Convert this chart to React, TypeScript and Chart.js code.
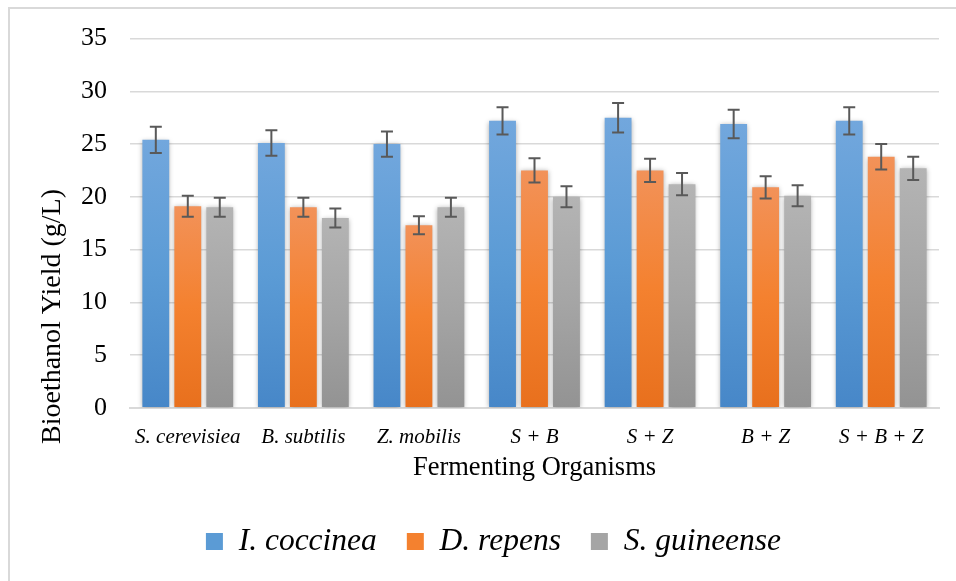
import { useEffect, useRef } from 'react'
import { Chart, registerables } from 'chart.js'
Chart.register(...registerables)

const SERIF = "'Liberation Serif', 'Times New Roman', serif"

const categories = ['S. cerevisiea', 'B. subtilis', 'Z. mobilis', 'S + B', 'S + Z', 'B + Z', 'S + B + Z']
const seriesNames = ['I. coccinea', 'D. repens', 'S. guineense']

const iCoccinea    = [25.4, 25.1, 25.0, 27.2, 27.5, 26.9, 27.2]
const iCoccineaErr = [1.25, 1.2, 1.2, 1.3, 1.4, 1.35, 1.3]
const dRepens      = [19.1, 19.0, 17.3, 22.5, 22.5, 20.9, 23.8]
const dRepensErr   = [1.0, 0.9, 0.85, 1.15, 1.1, 1.05, 1.2]
const sGuineense   = [19.0, 18.0, 19.0, 20.0, 21.2, 20.1, 22.7]
const sGuineenseErr = [0.9, 0.9, 0.9, 1.0, 1.05, 1.0, 1.1]

const yTicks = [0, 5, 10, 15, 20, 25, 30, 35]
const yTitle = 'Bioethanol Yield (g/L)'

// [top, middle, bottom] of each bar's gradient
const shades = [
  ['#72a7dd', '#5b9bd5', '#4787c8'],
  ['#f29259', '#f4812f', '#e8701d'],
  ['#b4b4b4', '#a5a5a5', '#939393'],
]

const errors = [iCoccineaErr, dRepensErr, sGuineenseErr]

const barFill = (si: number) => (ctx: any) => {
  const chart = ctx.chart
  const y = chart.scales?.y
  if (!chart.chartArea || !y || ctx.raw == null) return shades[si][1]
  const top = y.getPixelForValue(ctx.raw)
  const bot = y.getPixelForValue(0)
  if (!isFinite(top) || !isFinite(bot) || bot - top < 1) return shades[si][1]
  const g = chart.ctx.createLinearGradient(0, top, 0, bot)
  g.addColorStop(0, shades[si][0])
  g.addColorStop(0.5, shades[si][1])
  g.addColorStop(1, shades[si][2])
  return g
}

const errorBars = {
  id: 'errorBars',
  afterLayout(chart: any) {
    // legend sits a little right of centre, under the plot
    if (chart.legend) { chart.legend.left += 24; chart.legend.right += 24 }
  },
  beforeDatasetsDraw(chart: any) {
    const c = chart.ctx
    c.save()
    c.shadowColor = 'rgba(0,0,0,0.35)'
    c.shadowBlur = 5
    c.shadowOffsetX = 0
    c.shadowOffsetY = 1
  },
  afterDatasetsDraw(chart: any) {
    const c = chart.ctx
    c.restore()
    const y = chart.scales.y
    c.save()
    c.strokeStyle = '#595959'
    c.lineWidth = 2
    chart.data.datasets.forEach((ds: any, i: number) => {
      const meta = chart.getDatasetMeta(i)
      meta.data.forEach((bar: any, j: number) => {
        const v = ds.data[j], e = errors[i][j]
        const hi = y.getPixelForValue(v + e), lo = y.getPixelForValue(v - e)
        const cap = 6
        c.beginPath()
        c.moveTo(bar.x, hi); c.lineTo(bar.x, lo)
        c.moveTo(bar.x - cap, hi); c.lineTo(bar.x + cap, hi)
        c.moveTo(bar.x - cap, lo); c.lineTo(bar.x + cap, lo)
        c.stroke()
      })
    })
    c.restore()
  },
  afterDraw(chart: any) {
    // y title is set low, as in the source figure, not centred on the plot
    const c = chart.ctx
    c.save()
    c.translate(53, 316.5)
    c.rotate(-Math.PI / 2)
    c.font = `28px ${SERIF}`
    c.fillStyle = '#000'
    c.textAlign = 'center'
    c.textBaseline = 'middle'
    c.fillText(yTitle, 0, 0)
    c.restore()
  },
}

export default function App() {
  const ref = useRef<HTMLCanvasElement>(null)

  useEffect(() => {
    if (!ref.current) return
    const values = [iCoccinea, dRepens, sGuineense]
    const chart = new Chart(ref.current, {
      type: 'bar',
      data: {
        labels: categories,
        datasets: values.map((d, i) => ({
          label: seriesNames[i],
          data: d,
          backgroundColor: barFill(i),
          borderWidth: 0,
          categoryPercentage: 0.83,
          barPercentage: 0.84,
        })),
      },
      options: {
        animation: false,
        responsive: true,
        maintainAspectRatio: false,
        layout: { padding: { top: 37, right: 17, left: 0, bottom: 13.75 } },
        plugins: {
          tooltip: { enabled: false },
          legend: {
            position: 'bottom',
            labels: {
              font: { size: 31.5, family: SERIF, style: 'italic' },
              color: '#000',
              boxWidth: 17,
              boxHeight: 17,
              padding: 30,
              generateLabels: (ch: any) => ch.data.datasets.map((ds: any, i: number) => ({
                text: ds.label,
                fillStyle: shades[i][1],
                strokeStyle: shades[i][1],
                lineWidth: 0,
                datasetIndex: i,
                fontColor: '#000',
              })),
            },
          },
        },
        scales: {
          x: {
            grid: { display: false, drawTicks: false, tickLength: 0 },
            border: { display: true, color: '#d9d9d9', width: 2 },
            ticks: { color: '#000', font: { size: 21, family: SERIF, style: 'italic' }, padding: 17, maxRotation: 0, autoSkip: false },
            title: { display: true, text: 'Fermenting Organisms', color: '#000', font: { size: 26.5, family: SERIF }, padding: { top: 0, bottom: 12 } },
            afterFit: (s: any) => { s.height = 88 },
          },
          y: {
            min: 0, max: 35,
            afterBuildTicks: (s: any) => { s.ticks = yTicks.map(v => ({ value: v })) },
            grid: { color: '#d9d9d9', lineWidth: 1.5, drawTicks: false, tickLength: 0 },
            border: { display: false },
            ticks: { color: '#000', font: { size: 26, family: SERIF }, padding: 23 },
            title: { display: false },
            afterFit: (s: any) => { s.width = 130 },
          },
        },
      },
      plugins: [errorBars],
    })
    return () => chart.destroy()
  }, [])

  return (
    <div style={{ position: 'fixed', left: 0, top: 0, width: 956, height: 581, background: '#fff' }}>
      <div style={{ position: 'absolute', left: 8, top: 7, right: 0, bottom: 0, borderLeft: '2px solid #d9d9d9', borderTop: '2px solid #d9d9d9' }} />
      <canvas ref={ref} style={{ position: 'relative' }} />
    </div>
  )
}
